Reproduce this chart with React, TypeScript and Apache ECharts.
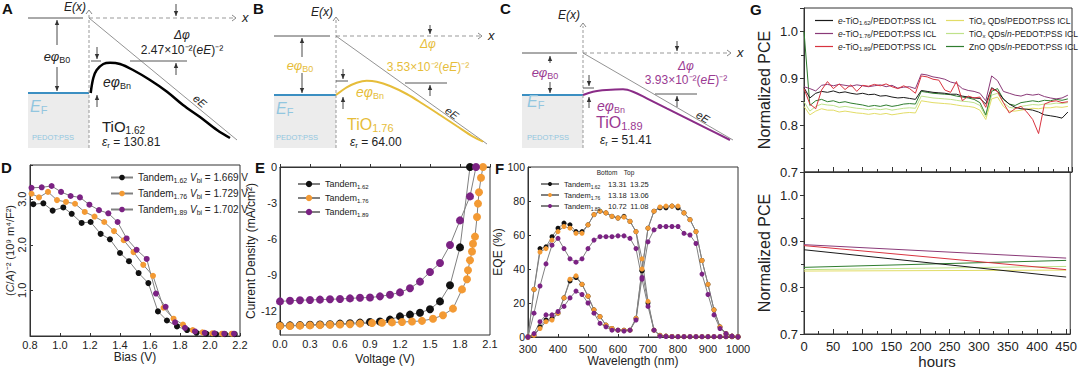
import React, { useEffect, useRef } from "react";
import * as echarts from "echarts";

const FONT = "'Liberation Sans', Arial, Helvetica, sans-serif";

// ===== A–C band diagrams: [distance from interface, energy above E_F] (arbitrary units)
const A_barrier = [[1.7, 0], [4.3, 15], [7.7, 23], [14.3, 29], [21, 30.3], [31, 29], [44, 23], [61, 13], [78, 1.3], [94, -12], [111, -24], [128, -37], [141, -45]];
const A_field = [[0, 75], [148, -47]];
const B_barrier = [[0, 0], [10.7, 7.7], [20.7, 12.3], [30.7, 14.3], [40.7, 13.3], [54, 9], [70.7, 1], [87, -9], [104, -20], [120.7, -31], [137, -41.7], [147, -46.7]];
const B_field = [[0, 59], [151, -49]];
const C_barrier = [[0, 0], [10, 3.3], [23.7, 5], [40, 5.7], [50, 3.3], [63.7, -3.3], [83.7, -13.3], [103.7, -23.3], [123.7, -33.3], [147, -45]];
const C_field = [[0, 42], [150, -45]];

// ===== D: (C/A)^-2 vs bias
const D_bias162 = [0.822, 0.889, 0.951, 1.022, 1.078, 1.144, 1.204, 1.271, 1.333, 1.4, 1.46, 1.524, 1.589, 1.653, 1.713, 1.78, 1.847, 1.91, 1.975, 2.04, 2.1, 2.165];
const D_ca162 = [2.89, 2.91, 2.75, 2.82, 2.68, 2.48, 2.5, 2.24, 2.12, 1.82, 1.64, 1.38, 1.16, 0.54, 0.34, 0.21, 0.13, 0.07, 0.05, 0.04, 0.04, 0.04];
const D_bias176 = [0.81, 0.86, 0.92, 0.98, 1.04, 1.1, 1.165, 1.23, 1.295, 1.36, 1.425, 1.49, 1.555, 1.62, 1.69, 1.757, 1.82, 1.885, 1.95, 2.015, 2.08, 2.145];
const D_ca176 = [3.12, 3.04, 3.16, 2.98, 2.94, 2.9, 2.72, 2.62, 2.5, 2.3, 2.1, 1.84, 1.56, 1.32, 0.62, 0.38, 0.25, 0.13, 0.08, 0.06, 0.05, 0.05];
const D_bias189 = [0.81, 0.878, 0.944, 1.007, 1.071, 1.133, 1.196, 1.26, 1.322, 1.384, 1.444, 1.511, 1.578, 1.64, 1.704, 1.767, 1.833, 1.9, 1.965, 2.03, 2.095, 2.16];
const D_ca189 = [3.25, 3.26, 3.29, 3.16, 3.07, 3.04, 2.88, 2.76, 2.69, 2.5, 2.14, 1.89, 1.69, 0.93, 0.64, 0.3, 0.18, 0.1, 0.07, 0.06, 0.05, 0.05];

// ===== E: J–V curves
const E_v162 = [0, 0.1, 0.2, 0.3, 0.4, 0.5, 0.6, 0.7, 0.8, 0.9, 1.0, 1.1, 1.2, 1.3, 1.4, 1.5, 1.6, 1.7, 1.8, 1.9];
const E_j162 = [-13.2, -13.2, -13.18, -13.15, -13.12, -13.1, -13.05, -13.02, -12.97, -12.92, -12.88, -12.72, -12.45, -12.3, -12.15, -11.85, -11.2, -9.85, -6.7, 0];
const E_v176 = [0, 0.1, 0.2, 0.3, 0.4, 0.5, 0.6, 0.7, 0.8, 0.92, 1.02, 1.12, 1.22, 1.32, 1.42, 1.53, 1.63, 1.73, 1.82, 1.87, 1.88, 1.9, 1.92, 1.93, 1.95, 1.97, 1.98, 1.99, 2.01, 2.03];
const E_j176 = [-13.25, -13.25, -13.22, -13.2, -13.18, -13.15, -13.12, -13.1, -13.05, -13.0, -12.98, -12.95, -12.92, -12.88, -12.82, -12.65, -12.35, -11.8, -10.2, -9.35, -8.6, -7.77, -7.04, -6.4, -5.8, -4.17, -3.05, -2.1, -0.9, 0];
const E_v189 = [0, 0.1, 0.2, 0.3, 0.4, 0.5, 0.6, 0.7, 0.8, 0.9, 1.0, 1.1, 1.2, 1.3, 1.4, 1.5, 1.6, 1.7, 1.8, 1.9, 1.96];
const E_j189 = [-11.2, -11.15, -11.1, -11.08, -11.05, -11.02, -11.0, -10.95, -10.9, -10.88, -10.78, -10.65, -10.45, -10.1, -9.55, -8.75, -8.0, -6.5, -4.45, -2.45, 0];

// ===== F: EQE spectra (top and bottom subcells)
const F_wl = [300, 320, 340, 360, 380, 400, 420, 440, 460, 480, 500, 520, 540, 560, 580, 600, 620, 640, 660, 680, 700, 720, 740, 760, 780, 800, 820, 840, 860, 880, 900, 920, 940, 960, 980, 1000];
const F_top162 = [0, 28, 52, 53, 59, 64, 67, 66, 62, 62, 66, 72, 74, 73, 71, 70, 71, 68, 62, 39, 20, 4, 1, 0.5, 0.3, 0.2, 0.2, 0.2, 0.2, 0.2, 0.2, 0.2, 0.2, 0.2, 0.2, 0.2];
const F_top176 = [0, 28, 50, 52, 57, 62, 65, 64, 61, 61, 66, 72, 74, 73, 71, 70, 70.5, 68, 62, 46, 21, 4, 1, 0.5, 0.3, 0.2, 0.2, 0.2, 0.2, 0.2, 0.2, 0.2, 0.2, 0.2, 0.2, 0.2];
const F_top189 = [0, 14, 30, 43, 54, 58, 52, 46, 44, 46, 52, 57, 59, 59, 59, 59.5, 59.5, 58, 52, 34, 18, 4, 0.5, 0.3, 0.2, 0.2, 0.2, 0.2, 0.2, 0.2, 0.2, 0.2, 0.2, 0.2, 0.2, 0.2];
const F_bot162 = [0, 1, 6, 10, 11, 14, 23, 33, 35, 31, 24, 16, 12, 7, 5, 4, 4, 4, 11, 39, 64, 74, 76, 76, 77, 76, 73, 69, 62, 45, 31, 16, 6, 2, 0.5, 0];
const F_bot176 = [0, 1, 5, 9, 10, 14, 23, 34, 36, 31, 24, 16, 12, 7, 5, 4, 4, 4, 11, 40, 64, 74, 76.5, 77, 77, 77, 73, 69, 62, 45, 31, 16, 6, 2, 0.5, 0];
const F_bot189 = [0, 2, 9, 13, 13, 15, 18, 23, 27, 25, 20, 14, 8, 6, 4, 4, 3.5, 4, 10, 35, 56, 63, 65, 65, 65, 65, 61, 60, 55, 37, 25, 13, 5, 2, 0.5, 0];
const F_bottomJsc = ["13.31", "13.18", "10.72"];
const F_topJsc = ["13.25", "13.06", "11.08"];

// ===== G: stability
const G_hours = [0, 10, 20, 30, 40, 50, 60, 70, 80, 90, 100, 110, 120, 130, 140, 150, 160, 170, 180, 190, 200, 210, 220, 230, 240, 250, 260, 270, 280, 290, 300, 310, 320, 330, 340, 350, 360, 370, 380, 390, 400, 410, 420, 430, 440, 450];
const G_e162 = [0.880, 0.858, 0.868, 0.872, 0.870, 0.873, 0.869, 0.871, 0.868, 0.866, 0.868, 0.865, 0.866, 0.862, 0.863, 0.860, 0.858, 0.859, 0.857, 0.855, 0.874, 0.872, 0.870, 0.869, 0.868, 0.866, 0.866, 0.862, 0.860, 0.858, 0.857, 0.845, 0.880, 0.872, 0.856, 0.845, 0.838, 0.835, 0.834, 0.832, 0.828, 0.822, 0.820, 0.818, 0.815, 0.828];
const G_e176 = [0.882, 0.878, 0.873, 0.885, 0.887, 0.884, 0.887, 0.885, 0.883, 0.886, 0.884, 0.882, 0.884, 0.886, 0.882, 0.885, 0.879, 0.881, 0.882, 0.878, 0.909, 0.907, 0.903, 0.901, 0.898, 0.892, 0.889, 0.878, 0.874, 0.872, 0.868, 0.852, 0.905, 0.895, 0.872, 0.868, 0.864, 0.862, 0.866, 0.864, 0.866, 0.861, 0.858, 0.856, 0.858, 0.864];
const G_e189 = [0.878, 0.845, 0.835, 0.875, 0.893, 0.878, 0.888, 0.876, 0.886, 0.872, 0.885, 0.883, 0.887, 0.884, 0.888, 0.882, 0.878, 0.884, 0.878, 0.868, 0.905, 0.903, 0.898, 0.896, 0.875, 0.870, 0.893, 0.852, 0.862, 0.858, 0.860, 0.838, 0.878, 0.872, 0.848, 0.826, 0.835, 0.840, 0.828, 0.812, 0.782, 0.845, 0.850, 0.852, 0.848, 0.850];
const G_qd = [0.840, 0.822, 0.830, 0.835, 0.832, 0.832, 0.828, 0.830, 0.828, 0.826, 0.825, 0.823, 0.825, 0.823, 0.825, 0.822, 0.824, 0.826, 0.827, 0.826, 0.852, 0.850, 0.848, 0.847, 0.846, 0.845, 0.843, 0.841, 0.840, 0.838, 0.832, 0.812, 0.856, 0.860, 0.840, 0.830, 0.830, 0.832, 0.834, 0.836, 0.835, 0.837, 0.837, 0.839, 0.838, 0.840];
const G_qdn = [0.850, 0.830, 0.840, 0.845, 0.843, 0.842, 0.838, 0.840, 0.838, 0.836, 0.835, 0.833, 0.835, 0.833, 0.835, 0.832, 0.834, 0.836, 0.837, 0.836, 0.862, 0.860, 0.858, 0.857, 0.856, 0.855, 0.853, 0.851, 0.850, 0.848, 0.842, 0.818, 0.864, 0.868, 0.848, 0.838, 0.836, 0.840, 0.842, 0.844, 0.843, 0.845, 0.845, 0.847, 0.846, 0.848];
const G_zno = [1.000, 0.842, 0.852, 0.855, 0.850, 0.852, 0.848, 0.850, 0.847, 0.845, 0.843, 0.840, 0.842, 0.840, 0.843, 0.840, 0.842, 0.845, 0.846, 0.845, 0.872, 0.870, 0.868, 0.867, 0.866, 0.865, 0.862, 0.860, 0.858, 0.855, 0.848, 0.822, 0.872, 0.878, 0.855, 0.845, 0.842, 0.848, 0.850, 0.852, 0.850, 0.853, 0.852, 0.855, 0.853, 0.856];
const G_fitHours = [0, 450];
const G_fit162 = [0.882, 0.823];
const G_fit176 = [0.893, 0.864];
const G_fit189 = [0.891, 0.839];
const G_fitQd = [0.836, 0.838];
const G_fitQdn = [0.839, 0.846];
const G_fitZno = [0.844, 0.859];
const G_labels: Record<string, string> = {
  G1: "{i|e}-TiO{s|1.62}/PEDOT:PSS ICL",
  G2: "{i|e}-TiO{s|1.76}/PEDOT:PSS ICL",
  G3: "{i|e}-TiO{s|1.89}/PEDOT:PSS ICL",
  G4: "TiO{s|x} QDs/PEDOT:PSS ICL",
  G5: "TiO{s|x} QDs/{i|n}-PEDOT:PSS ICL",
  G6: "ZnO QDs/{i|n}-PEDOT:PSS ICL",
};

const zip = (xs: number[], ys: number[]) => xs.map((x, i) => [x, ys[i]]);

const C_BLACK = "#111111";
const C_ORANGE = "#f39a34";
const C_PURPLE = "#7b2283";
const C_LINE = "#808080";
const S_YELLOW = "#e6bd3a";
const S_PURPLE = "#9a3a92";
const S_BLUE = "#3b8fc2";
const S_LBLUE = "#92c6df";
const GC = ["#1a1a1a", "#8a3a78", "#d8333f", "#e2dc66", "#bfe28a", "#2f7d2f"];

function buildOption() {
  const g: any[] = [];
  const line = (x1: number, y1: number, x2: number, y2: number, stroke = "#444", lineWidth = 1, lineDash?: number[]) =>
    g.push({ type: "line", silent: true, shape: { x1, y1, x2, y2 }, style: { stroke, lineWidth, lineDash } });
  const head = (x: number, y: number, dir: string, fill = "#333") => {
    const s = 2.2, l = 5;
    const pts = dir === "up" ? [[x - s, y + l], [x + s, y + l], [x, y]] : [[x - s, y - l], [x + s, y - l], [x, y]];
    g.push({ type: "polygon", silent: true, shape: { points: pts }, style: { fill } });
  };
  const chevron = (x: number, y: number, dir: string) => {
    const pts = dir === "up" ? [[x - 3, y + 4], [x, y], [x + 3, y + 4]] : [[x - 4, y - 3], [x, y], [x - 4, y + 3]];
    g.push({ type: "polyline", silent: true, shape: { points: pts }, style: { stroke: "#888", lineWidth: 1, fill: null } });
  };
  const arrow = (x: number, y1: number, y2: number, c = "#333") => {
    line(x, y1, x, y2, c, 0.9);
    head(x, y2, y2 < y1 ? "up" : "down", c);
  };
  const text = (x: number, y: number, t: string, o: any = {}) => {
    const size = o.size || 12;
    g.push({
      type: "text", silent: true, x, y, rotation: o.rotation || 0,
      style: {
        text: t, fill: o.color || "#222", fontSize: size, fontFamily: FONT,
        fontStyle: o.italic ? "italic" : "normal", fontWeight: o.bold ? "bold" : "normal",
        align: o.align || "left", verticalAlign: o.va || "middle",
        textAlign: o.align || "left", textVerticalAlign: o.va || "middle",
        lineHeight: Math.round(size * 1.2),
        rich: {
          s: { fontSize: Math.round(size * 0.66), lineHeight: Math.round(size * 0.72), verticalAlign: "bottom", fontFamily: FONT },
          i: { fontStyle: "italic", fontSize: size, fontFamily: FONT },
        },
      },
    });
  };

  // ---------- schematic panels
  const schem = (p: any) => {
    g.push({ type: "rect", silent: true, shape: { x: p.boxL, y: p.ef, width: p.x0 - p.boxL, height: 148 - p.ef }, style: { fill: "#ececec" } });
    line(p.boxL, p.ef, p.x0, p.ef, S_BLUE, 2);
    line(p.boxL, p.b0, p.x0 - 6, p.b0, "#555", 1);
    line(p.x0, 148, p.x0, p.axTop + 3, "#999", 1, [3, 2]);
    chevron(p.x0, p.axTop, "up");
    line(p.x0, p.b0, p.xEnd - 2, p.b0, "#999", 1, [4, 3]);
    chevron(p.xEnd, p.b0, "right");
    text(p.xEnd + 6, p.b0 - 1, "x", { italic: true, size: 13 });
    text(p.x0 - 3, p.exY, "E(x)", { italic: true, size: 12, align: "right" });
  };
  // A
  schem({ x0: 89, ef: 93, b0: 18, boxL: 28, axTop: 10, xEnd: 236, exY: 7 });
  arrow(57, 45, 20); arrow(57, 67, 91);
  text(57, 56, "{i|eφ}{s|B0}", { size: 13, align: "center" });
  line(91, 61, 101, 61, "#444", 0.9);
  arrow(97, 47, 59); arrow(97, 107, 95);
  text(103, 82, "{i|eφ}{s|Bn}", { size: 14 });
  arrow(176, 4, 16);
  line(130, 61, 187, 61, "#444", 0.9);
  arrow(176, 75, 63);
  text(182, 35, "Δφ", { italic: true, size: 12, align: "center" });
  text(182, 50, "2.47×10⁻²({i|eE})⁻²", { size: 12, align: "center" });
  text(200, 101, "eE", { italic: true, size: 11, align: "center", rotation: -0.69 });
  text(102, 126, "TiO{s|1.62}", { size: 15 });
  text(102, 142, "{i|ε}{s|r} = 130.81", { size: 12 });
  text(30, 106, "{i|E}{s|F}", { size: 16, color: S_LBLUE });
  text(32, 137, "PEDOT:PSS", { size: 7.5, color: S_LBLUE });
  // B
  schem({ x0: 336, ef: 95, b0: 36, boxL: 274, axTop: 17, xEnd: 482, exY: 12 });
  arrow(302, 57, 38); arrow(302, 73, 93);
  text(300, 65, "{i|eφ}{s|B0}", { size: 13, align: "center", color: S_YELLOW });
  line(336, 81, 348, 81, "#444", 0.9);
  arrow(343, 69, 79); arrow(343, 109, 97);
  text(356, 92, "{i|eφ}{s|Bn}", { size: 14, color: S_YELLOW });
  arrow(430, 25, 34);
  line(405, 83, 447, 83, "#444", 0.9);
  arrow(430, 96, 85);
  text(428, 44, "Δφ", { italic: true, size: 12, align: "center", color: S_YELLOW });
  text(428, 67, "3.53×10⁻²({i|eE})⁻²", { size: 12, align: "center", color: S_YELLOW });
  text(452, 113, "eE", { italic: true, size: 11, align: "center", rotation: -0.62 });
  text(347, 124, "TiO{s|1.76}", { size: 16, color: S_YELLOW });
  text(350, 142, "{i|ε}{s|r} = 64.00", { size: 12 });
  text(276, 108, "{i|E}{s|F}", { size: 16, color: S_LBLUE });
  text(276, 137, "PEDOT:PSS", { size: 7.5, color: S_LBLUE });
  // C
  schem({ x0: 583, ef: 95, b0: 53, boxL: 522, axTop: 23, xEnd: 731, exY: 15 });
  arrow(550, 63, 56); arrow(550, 82, 93);
  text(545, 72, "{i|eφ}{s|B0}", { size: 13, align: "center", color: S_PURPLE });
  line(583, 88, 594, 88, "#444", 0.9);
  arrow(589, 75, 86); arrow(589, 108, 97);
  text(597, 106, "{i|eφ}{s|Bn}", { size: 14, color: S_PURPLE });
  arrow(677, 41, 51);
  line(655, 94, 697, 94, "#444", 0.9);
  arrow(677, 107, 96);
  text(686, 66, "Δφ", { italic: true, size: 12, align: "center", color: S_PURPLE });
  text(686, 80, "3.93×10⁻²({i|eE})⁻²", { size: 12, align: "center", color: S_PURPLE });
  text(703, 117, "eE", { italic: true, size: 11, align: "center", rotation: -0.52 });
  text(596, 122, "TiO{s|1.89}", { size: 16, color: S_PURPLE });
  text(600, 140, "{i|ε}{s|r} = 51.41", { size: 12 });
  text(527, 101, "{i|E}{s|F}", { size: 16, color: S_LBLUE });
  text(527, 137, "PEDOT:PSS", { size: 7.5, color: S_LBLUE });

  // panel letters
  [["A", 2, 8], ["B", 253, 8], ["C", 500, 8], ["D", 1, 167], ["E", 255, 167], ["F", 495, 168], ["G", 750, 9]].forEach(([t, x, y]) =>
    text(x as number, y as number, t as string, { size: 15, bold: true, color: "#111" })
  );
  // F legend header
  text(607, 172, "Bottom", { size: 6.5, align: "center" });
  text(629, 172, "Top", { size: 6.5, align: "center" });

  // ---------- grids
  const frame = { show: true, borderColor: "#333", borderWidth: 1, backgroundColor: "transparent" };
  const grid = [
    { left: 19, top: 10, width: 230, height: 140 },
    { left: 266, top: 10, width: 230, height: 140 },
    { left: 513, top: 10, width: 230, height: 140 },
    { left: 30, top: 165, width: 210, height: 171, ...frame },
    { left: 280, top: 167, width: 210, height: 168, ...frame },
    { left: 528, top: 167, width: 210, height: 170, ...frame },
    { left: 804, top: 8, width: 268, height: 164, ...frame },
    { left: 804, top: 172, width: 268, height: 162, ...frame },
  ];

  const hid = (i: number, min: number, max: number) => ({ gridIndex: i, type: "value", min, max, show: false });
  const base = {
    type: "value",
    axisLine: { lineStyle: { color: "#333", width: 1 } },
    axisTick: { inside: true, length: 3, lineStyle: { color: "#333" } },
    axisLabel: { color: "#222", fontSize: 11, margin: 3, fontFamily: FONT },
    splitLine: { show: false },
    nameLocation: "middle",
    nameTextStyle: { color: "#222", fontSize: 12, fontFamily: FONT },
  };
  const f1 = (v: number) => v.toFixed(1);

  const xAxis: any[] = [
    hid(0, -70, 160), hid(1, -70, 160), hid(2, -70, 160),
    { ...base, gridIndex: 3, min: 0.8, max: 2.2, interval: 0.2, axisLabel: { ...base.axisLabel, formatter: f1 }, name: "Bias (V)", nameGap: 14 },
    { ...base, gridIndex: 4, min: 0, max: 2.1, interval: 0.3, axisLabel: { ...base.axisLabel, formatter: f1 }, name: "Voltage (V)", nameGap: 18 },
    { ...base, gridIndex: 5, min: 300, max: 1000, interval: 100, axisLabel: { ...base.axisLabel, margin: 6, formatter: (v: number) => String(v) }, name: "Wavelength (nm)", nameGap: 14 },
    { ...base, gridIndex: 6, min: 0, max: 457, interval: 50, axisLabel: { show: false }, axisTick: { inside: true, length: 5, lineStyle: { color: "#333" } }, minorTick: { show: true, splitNumber: 2, length: 3, lineStyle: { color: "#333" } } },
    {
      ...base, gridIndex: 7, min: 0, max: 457, interval: 50,
      axisLabel: { ...base.axisLabel, fontSize: 13, margin: 6, formatter: (v: number) => (v <= 450 ? String(v) : "") },
      axisTick: { inside: true, length: 5, lineStyle: { color: "#333" } }, minorTick: { show: true, splitNumber: 2, length: 3, lineStyle: { color: "#333" } },
      name: "hours", nameGap: 20, nameTextStyle: { color: "#222", fontSize: 15, fontFamily: FONT },
    },
  ];
  const gY = (i: number) => ({
    ...base, gridIndex: i, min: 0.7, max: 1.05, interval: 0.1,
    axisLabel: { ...base.axisLabel, fontSize: 13, margin: 6, formatter: (v: number) => (v <= 1.001 ? v.toFixed(1) : "") },
    axisTick: { inside: false, length: 4, lineStyle: { color: "#333" } },
    minorTick: { show: true, splitNumber: 2, length: 3, lineStyle: { color: "#333" } },
    name: "Normalized PCE", nameGap: 32, nameTextStyle: { color: "#222", fontSize: 16, fontFamily: FONT },
  });
  const yAxis: any[] = [
    hid(0, -57, 83), hid(1, -55, 85), hid(2, -55, 85),
    {
      ...base, gridIndex: 3, min: 0, max: 3.75, interval: 1,
      axisLabel: { ...base.axisLabel, rotate: 90, formatter: (v: number) => (v > 0.5 && Math.abs(v - Math.round(v)) < 1e-6 ? v.toFixed(1) : "") },
      name: "({i|C}/{i|A})⁻² (10⁹ m⁴/F²)", nameGap: 15,
      nameTextStyle: { color: "#222", fontSize: 11, fontFamily: FONT, rich: { i: { fontStyle: "italic", fontSize: 11 } } },
    },
    {
      ...base, gridIndex: 4, min: -14, max: 0, interval: 1, axisTick: { show: false },
      axisLabel: { ...base.axisLabel, formatter: (v: number) => (Math.round(v) % 3 === 0 ? String(Math.round(v)) : "") },
      name: "Current Density (mA/cm²)", nameGap: 19,
    },
    { ...base, gridIndex: 5, min: 0, max: 100, interval: 20, axisLabel: { ...base.axisLabel, fontSize: 10.5 }, name: "EQE (%)", nameGap: 22 },
    gY(6), gY(7),
  ];

  const series: any[] = [];
  const schemLine = (i: number, data: number[][], color: string, width: number, smooth: number) =>
    series.push({ type: "line", xAxisIndex: i, yAxisIndex: i, data, smooth, showSymbol: false, symbol: "none", lineStyle: { color, width }, silent: true, z: 3 });
  schemLine(0, A_field, "#777", 0.8, 0); schemLine(0, A_barrier, "#000", 2.5, 0.35);
  schemLine(1, B_field, "#777", 0.8, 0); schemLine(1, B_barrier, S_YELLOW, 2, 0.35);
  schemLine(2, C_field, "#777", 0.8, 0); schemLine(2, C_barrier, "#8a2c87", 2, 0.35);

  const pts = (i: number, name: string, xs: number[], ys: number[], color: string, size: number) =>
    series.push({ type: "line", name, xAxisIndex: i, yAxisIndex: i, data: zip(xs, ys), symbol: "circle", symbolSize: size, lineStyle: { color: C_LINE, width: 1 }, itemStyle: { color }, silent: true, z: 3 });
  pts(3, "D162", D_bias162, D_ca162, C_BLACK, 6);
  pts(3, "D176", D_bias176, D_ca176, C_ORANGE, 6);
  pts(3, "D189", D_bias189, D_ca189, C_PURPLE, 6);
  pts(4, "E162", E_v162, E_j162, C_BLACK, 8);
  pts(4, "E176", E_v176, E_j176, C_ORANGE, 8);
  pts(4, "E189", E_v189, E_j189, C_PURPLE, 8);
  pts(5, "F162", F_wl, F_top162, C_BLACK, 5);
  pts(5, "F176", F_wl, F_top176, C_ORANGE, 5);
  pts(5, "F189", F_wl, F_top189, C_PURPLE, 5);
  pts(5, "F162", F_wl, F_bot162, C_BLACK, 5);
  pts(5, "F176", F_wl, F_bot176, C_ORANGE, 5);
  pts(5, "F189", F_wl, F_bot189, C_PURPLE, 5);

  const gl = (i: number, name: string, xs: number[], ys: number[], color: string) =>
    series.push({ type: "line", name, xAxisIndex: i, yAxisIndex: i, data: zip(xs, ys), symbol: "none", showSymbol: false, lineStyle: { color, width: 1 }, itemStyle: { color }, silent: true, z: 3 });
  gl(6, "G4", G_hours, G_qd, GC[3]);
  gl(6, "G5", G_hours, G_qdn, GC[4]);
  gl(6, "G6", G_hours, G_zno, GC[5]);
  gl(6, "G1", G_hours, G_e162, GC[0]);
  gl(6, "G2", G_hours, G_e176, GC[1]);
  gl(6, "G3", G_hours, G_e189, GC[2]);
  gl(7, "Gb4", G_fitHours, G_fitQd, GC[3]);
  gl(7, "Gb5", G_fitHours, G_fitQdn, GC[4]);
  gl(7, "Gb6", G_fitHours, G_fitZno, GC[5]);
  gl(7, "Gb1", G_fitHours, G_fit162, GC[0]);
  gl(7, "Gb2", G_fitHours, G_fit176, GC[1]);
  gl(7, "Gb3", G_fitHours, G_fit189, GC[2]);

  const richSmall = (fs: number) => ({
    s: { fontSize: Math.round(fs * 0.7), lineHeight: Math.round(fs * 0.78), verticalAlign: "bottom", fontFamily: FONT },
    i: { fontStyle: "italic", fontSize: fs, fontFamily: FONT },
    v: { fontSize: fs, width: 22, align: "center", fontFamily: FONT },
    p: { width: 6 },
  });
  const sub = (n: string) => n.replace(/^[A-Z]/, "").replace(/^(\d)(\d\d)$/, "$1.$2");
  const Dvbi: Record<string, string> = { D162: "1.669", D176: "1.729", D189: "1.702" };
  const fIdx: Record<string, number> = { F162: 0, F176: 1, F189: 2 };
  const legend: any[] = [
    {
      data: ["D162", "D176", "D189"], left: 105, top: 166, orient: "vertical", itemWidth: 22, itemHeight: 7, itemGap: 3, selectedMode: false,
      formatter: (n: string) => `Tandem{s|${sub(n)}} {i|V}{s|bi} = ${Dvbi[n]} V`,
      textStyle: { fontSize: 10, color: "#222", lineHeight: 13, fontFamily: FONT, rich: richSmall(10) },
    },
    {
      data: ["E162", "E176", "E189"], left: 292, top: 173, orient: "vertical", itemWidth: 22, itemHeight: 8, itemGap: 2, selectedMode: false,
      formatter: (n: string) => `Tandem{s|${sub(n)}}`,
      textStyle: { fontSize: 9, color: "#222", lineHeight: 12, fontFamily: FONT, rich: richSmall(9) },
    },
    {
      data: ["F162", "F176", "F189"], left: 535, top: 174, orient: "vertical", itemWidth: 18, itemHeight: 5, itemGap: 1, itemTextGap: 3, selectedMode: false,
      formatter: (n: string) => `Tandem{s|${sub(n)}}{p|}{v|${F_bottomJsc[fIdx[n]]}}{v|${F_topJsc[fIdx[n]]}}`,
      textStyle: { fontSize: 7.5, color: "#222", lineHeight: 10, fontFamily: FONT, rich: richSmall(7.5) },
    },
    {
      data: ["G1", "G2", "G3"], left: 810, top: 10, orient: "vertical", icon: "rect", itemWidth: 18, itemHeight: 1.2, itemGap: 2, selectedMode: false,
      formatter: (n: string) => G_labels[n],
      textStyle: { fontSize: 8.5, color: "#222", lineHeight: 11, fontFamily: FONT, rich: richSmall(8.5) },
    },
    {
      data: ["G4", "G5", "G6"], left: 941, top: 10, orient: "vertical", icon: "rect", itemWidth: 18, itemHeight: 1.2, itemGap: 2, selectedMode: false,
      formatter: (n: string) => G_labels[n],
      textStyle: { fontSize: 8.5, color: "#222", lineHeight: 11, fontFamily: FONT, rich: richSmall(8.5) },
    },
  ];

  return {
    animation: false,
    backgroundColor: "#ffffff",
    textStyle: { fontFamily: FONT },
    grid, xAxis, yAxis, series, legend, graphic: g,
  };
}

export default function App() {
  const ref = useRef<HTMLDivElement>(null);
  useEffect(() => {
    document.body.style.margin = "0";
    const chart = echarts.init(ref.current as HTMLDivElement, undefined, { renderer: "svg" });
    chart.setOption(buildOption() as any);
    return () => chart.dispose();
  }, []);
  return <div ref={ref} style={{ width: 1080, height: 370 }} />;
}
